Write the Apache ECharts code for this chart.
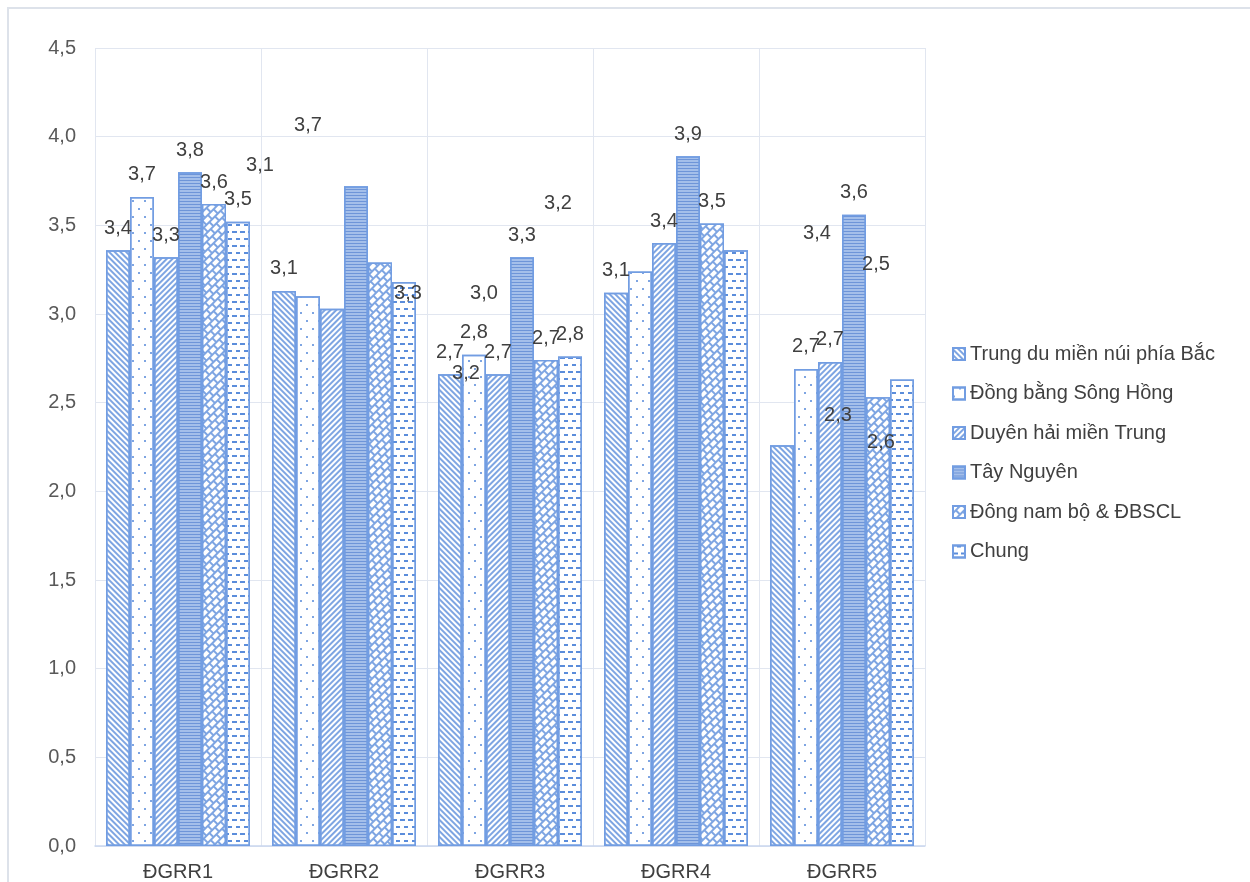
<!DOCTYPE html>
<html><head><meta charset="utf-8">
<script src="https://cdn.jsdelivr.net/npm/echarts@6/dist/echarts.min.js"></script>
<style>html,body{margin:0;padding:0;background:#fff}#c{width:1250px;height:882px}</style>
</head><body><div id="c"></div>
<script>
// ---- data ----
const categories = ['ĐGRR1', 'ĐGRR2', 'ĐGRR3', 'ĐGRR4', 'ĐGRR5'];
const seriesNames = ['Trung du miền núi phía Bắc', 'Đồng bằng Sông Hồng', 'Duyên hải miền Trung', 'Tây Nguyên', 'Đông nam bộ & ĐBSCL', 'Chung'];
const trungDu   = [3.36, 3.13, 2.66, 3.12, 2.26];
const dongBang  = [3.66, 3.10, 2.77, 3.24, 2.69];
const duyenHai  = [3.32, 3.03, 2.66, 3.40, 2.73];
const tayNguyen = [3.80, 3.72, 3.32, 3.89, 3.56];
const dongNam   = [3.62, 3.29, 2.74, 3.51, 2.53];
const chung     = [3.52, 3.18, 2.76, 3.36, 2.63];
const yTicks = [0, 0.5, 1.0, 1.5, 2.0, 2.5, 3.0, 3.5, 4.0, 4.5];

// ---- styles (label displacement as in the source picture) ----
const labelOffsets = [
  [[0,0],[0,0],[0,0],[0,0],[56,-8]],
  [[0,0],[-48,-109],[0,0],[-174,124],[0,0]],
  [[0,0],[152,7],[0,0],[0,0],[0,0]],
  [[0,0],[-48,-39],[0,0],[0,0],[0,0]],
  [[0,0],[28,53],[0,0],[0,0],[-2,-111]],
  [[0,0],[154,-57],[0,0],[81,5],[-21,85]]
];
const blue = '#729de2';
const styles = [
  {color:'#ffffff', decal:{symbol:'rect', symbolSize:1, color:'#7ea5e2', dashArrayX:[1,0], dashArrayY:[1.2,2], rotation:Math.PI/4}},
  {color:'#ffffff', decal:{symbol:'rect', symbolSize:1, color:'#7ea5e2', dashArrayX:[[2,10],[0,6,2,4]], dashArrayY:[1.2,6]}},
  {color:'#ffffff', decal:{symbol:'rect', symbolSize:1, color:'#7ea5e2', dashArrayX:[1,0], dashArrayY:[1.2,1.8], rotation:-Math.PI/4}},
  {color:'#a4bfea', decal:{symbol:'rect', symbolSize:1, color:'#6e95d8', dashArrayX:[1,0], dashArrayY:[1,1.5]}},
  {color:'#7ea5e2', decal:{symbol:'rect', symbolSize:1, color:'#ffffff', dashArrayX:[[6,1.5],[2,1.5,4,0]], dashArrayY:[4,1.5], rotation:-Math.PI/4}},
  {color:'#ffffff', decal:{symbol:'rect', symbolSize:1, color:'#5b8ddb', dashArrayX:[[5,3],[0,4,5,-1]], dashArrayY:[1.5,5]}}
];
const values = [trungDu, dongBang, duyenHai, tayNguyen, dongNam, chung];
const fmt = v => v.toFixed(1).replace('.', ',');
const font = 'Liberation Sans, Arial, sans-serif';

const series = values.map((arr, si) => ({
  name: seriesNames[si],
  type: 'bar',
  barGap: '0%',
  barCategoryGap: '13.25%',
  itemStyle: {color: styles[si].color, decal: styles[si].decal, borderColor: blue, borderWidth: 1.5},
  label: {show: true, position: 'top', distance: 12, color: '#404040', fontSize: 20, fontFamily: font,
          formatter: p => fmt(p.value)},
  data: arr.map((v, ci) => ({value: v, label: {offset: labelOffsets[si][ci]}}))
}));

const chart = echarts.init(document.getElementById('c'));
chart.setOption({
  animation: false,
  aria: {enabled: false},
  grid: {left: 95, top: 48, width: 830, height: 799},
  legend: {
    orient: 'vertical', left: 947, top: 339, itemWidth: 12, itemHeight: 12, itemGap: 19.5, icon: 'rect',
    textStyle: {color: '#404040', fontSize: 20, fontFamily: font},
    data: seriesNames
  },
  graphic: [{type: 'rect', shape: {x: 8, y: 8, width: 1300, height: 1000}, style: {fill: 'none', stroke: '#dde2ea', lineWidth: 2}, silent: true}],
  xAxis: {
    type: 'category', data: categories,
    axisLine: {show: true, lineStyle: {color: '#c9d6ee', width: 1.5}},
    axisTick: {show: false},
    splitLine: {show: true, lineStyle: {color: '#e1e6f0', width: 1}},
    axisLabel: {color: '#404040', fontSize: 20, fontFamily: font, margin: 16}
  },
  yAxis: {
    type: 'value', min: yTicks[0], max: yTicks[yTicks.length - 1], interval: 0.5,
    axisLine: {show: false}, axisTick: {show: false},
    splitLine: {show: true, lineStyle: {color: '#e1e6f0', width: 1}},
    axisLabel: {color: '#595959', fontSize: 20, fontFamily: font, margin: 19, formatter: v => fmt(v)}
  },
  series: series
});
</script></body></html>
